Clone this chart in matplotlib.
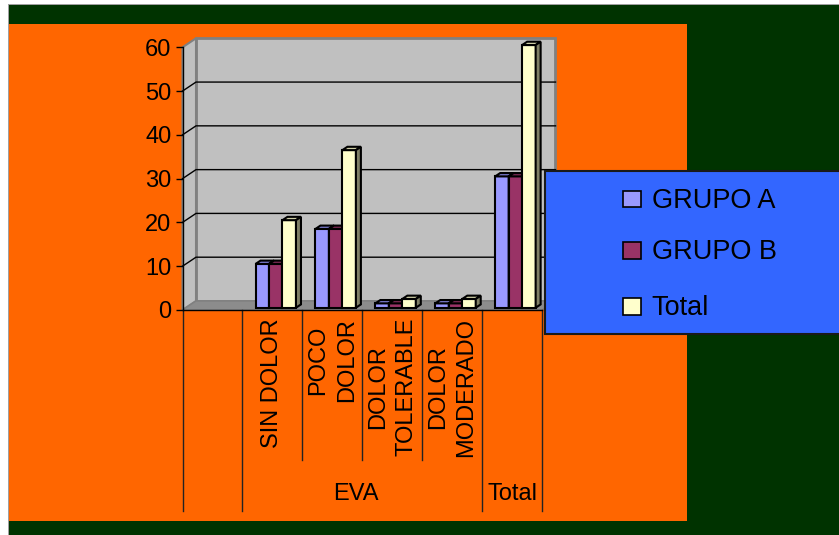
import matplotlib.pyplot as plt
from matplotlib.patches import Rectangle, Polygon
from matplotlib.colors import to_rgb
import numpy as np

plt.rcParams['font.family'] = ['Liberation Sans', 'DejaVu Sans']

# datos
categorias = ['', 'SIN DOLOR', 'POCO\nDOLOR', 'DOLOR\nTOLERABLE', 'DOLOR\nMODERADO', '']
grupos = [('', 0, 1), ('EVA', 1, 5), ('Total', 5, 6)]
series = ['GRUPO A', 'GRUPO B', 'Total']
grupo_a = [np.nan, 10, 18, 1, 1, 30]
grupo_b = [np.nan, 10, 18, 1, 1, 30]
total = [np.nan, 20, 36, 2, 2, 60]
colores = ['#9999FF', '#993366', '#FFFFCC']

W, H = 839, 535
fig = plt.figure(figsize=(W / 100, H / 100), dpi=100, facecolor='white')


def px(x0, y0, x1, y1):
    # caja en pixeles (origen arriba-izquierda) -> fraccion de figura
    return (x0 / W, 1 - y1 / H, (x1 - x0) / W, (y1 - y0) / H)


def caja(x0, y0, x1, y1, **kw):
    l, b, w, h = px(x0, y0, x1, y1)
    r = Rectangle((l, b), w, h, transform=fig.transFigure, **kw)
    fig.add_artist(r)
    return r


# fondos
caja(8, 4, 839, 535, facecolor='#A0A0A0', edgecolor='none', zorder=-10)
caja(9, 5, 839, 535, facecolor='#003300', edgecolor='none', zorder=-9)
caja(9, 24, 687, 521, facecolor='#FF6600', edgecolor='none', zorder=-8)

ax = fig.add_axes(px(182.5, 47.3, 542, 310))
ax.set_xlim(0, 6)
ax.set_ylim(0, 60)
ax.patch.set_visible(False)

# profundidad 3D (en unidades de datos)
dx, dy = 0.2253, 2.06

ax.add_patch(Polygon([(dx, dy), (6 + dx, dy), (6 + dx, 60 + dy), (dx, 60 + dy)],
                     facecolor='#C0C0C0', edgecolor='#808080', lw=2, clip_on=False, zorder=1))
ax.add_patch(Polygon([(0, 0), (dx, dy), (dx, 60 + dy), (0, 60)],
                     facecolor='#C0C0C0', edgecolor='#808080', lw=1.5, clip_on=False, zorder=1.1))
ax.add_patch(Polygon([(0, 0), (6, 0), (6 + dx, dy), (dx, dy)],
                     facecolor='#8C8C8C', edgecolor='#808080', lw=1, clip_on=False, zorder=1.2))
for v in range(10, 60, 10):
    ax.plot([0, dx, 6 + dx], [v, v + dy, v + dy], color='black', lw=1, clip_on=False, zorder=1.5)

# barras
ancho = 0.225
f0, f1 = 0.25, 0.62
b = f0 * dy
ddx, ddy = (f1 - f0) * dx, (f1 - f0) * dy
for i, (nombre, valores, color) in enumerate(zip(series, [grupo_a, grupo_b, total], colores)):
    x = np.arange(len(categorias)) + 0.5 + (i - 1) * ancho + f0 * dx
    z = 3 + i * 0.1
    ax.bar(x, valores, ancho, bottom=b, color=color, edgecolor='black', lw=1.5,
           clip_on=False, zorder=z, label=nombre)
    rgb = np.array(to_rgb(color))
    for xj, v in zip(x, valores):
        if np.isnan(v):
            continue
        x0, x1 = xj - ancho / 2, xj + ancho / 2
        top = v + b
        ax.add_patch(Polygon([(x0, top), (x1, top), (x1 + ddx, top + ddy), (x0 + ddx, top + ddy)],
                             facecolor=rgb * 0.8, edgecolor='black', lw=1.5, clip_on=False, zorder=z + 0.05))
        ax.add_patch(Polygon([(x1, b), (x1 + ddx, b + ddy), (x1 + ddx, top + ddy), (x1, top)],
                             facecolor=rgb * 0.5, edgecolor='black', lw=1.5, clip_on=False, zorder=z + 0.05))

# ejes
ax.set_yticks(range(0, 61, 10))
ax.set_xticks([])
ax.tick_params(axis='y', direction='out', length=5, width=1, pad=3, labelsize=17, colors='black')
for s in ['top', 'right']:
    ax.spines[s].set_visible(False)
for s in ['left', 'bottom']:
    ax.spines[s].set_color('black')
    ax.spines[s].set_linewidth(1)

# etiquetas de categorias (dos niveles)
trans = ax.get_xaxis_transform()
for j, cat in enumerate(categorias):
    ax.text(j + 0.5, -0.03, cat, rotation=90, ha='center', va='top', multialignment='center',
            fontsize=17, linespacing=1.4, transform=trans)
bordes = sorted({g[1] for g in grupos} | {g[2] for g in grupos})
for k in range(len(categorias) + 1):
    largo = 0.765 if k in bordes else 0.571
    ax.plot([k, k], [0, -largo], transform=trans, color='#222222', lw=1, clip_on=False)
for nombre, a, c in grupos:
    ax.text((a + c) / 2 - (0.1 if nombre == 'EVA' else 0), -0.723, nombre, ha='center', va='baseline',
            fontsize=17, transform=trans)

# leyenda
caja(545, 170.7, 845, 334, facecolor='#3366FF', edgecolor='#1a1a1a', lw=1.5, zorder=10)
bases = [207.7, 259.3, 315]
for nombre, color, yb in zip(series, colores, bases):
    caja(623.3, yb - 17, 641, yb - 0.5, facecolor=color, edgecolor='black', lw=1.2, zorder=11)
    fig.text(651.7 / W, 1 - yb / H, nombre, ha='left', va='baseline', fontsize=19.5, zorder=12)

fig.savefig('out.png', dpi=100)
